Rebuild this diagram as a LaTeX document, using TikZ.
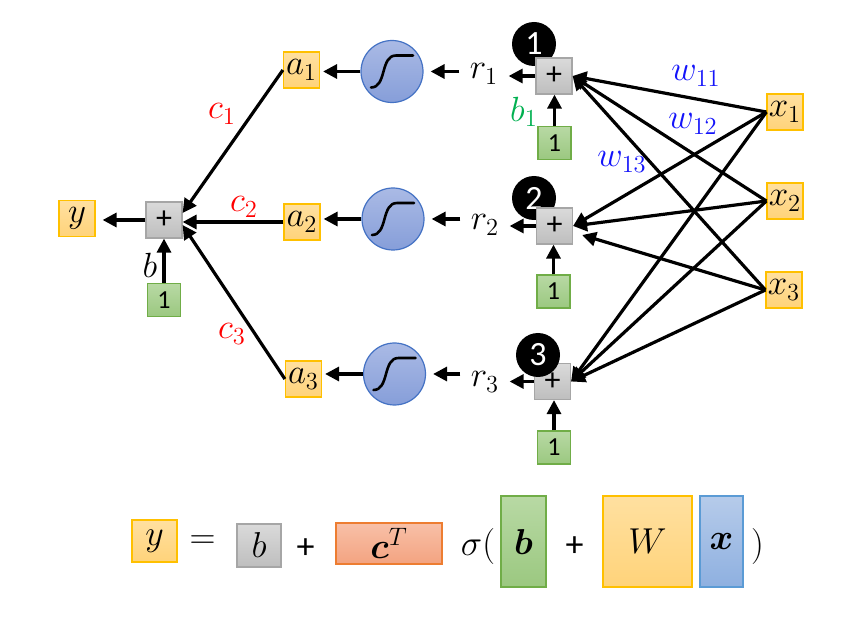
\RequirePackage{fix-cm}
\documentclass[tikz,border=0pt]{standalone}
\usepackage{bm}
\usepackage{fontspec}
\newfontfamily\calibri{Carlito}
\usetikzlibrary{arrows.meta}

% Colores
\definecolor{naranjaA}{RGB}{255,224,160}
\definecolor{naranjaC}{RGB}{255,211,122}
\definecolor{naranjaB}{RGB}{255,192,0}
\definecolor{grisA}{RGB}{218,218,218}
\definecolor{grisC}{RGB}{190,190,190}
\definecolor{grisB}{RGB}{166,166,166}
\definecolor{verdeA}{RGB}{184,217,164}
\definecolor{verdeC}{RGB}{155,200,128}
\definecolor{verdeB}{RGB}{112,173,71}
\definecolor{azulA}{RGB}{170,186,229}
\definecolor{azulC}{RGB}{134,158,217}
\definecolor{azulB}{RGB}{68,114,196}
\definecolor{salmonA}{RGB}{248,192,168}
\definecolor{salmonC}{RGB}{243,163,128}
\definecolor{salmonB}{RGB}{237,125,49}
\definecolor{celesteA}{RGB}{182,203,234}
\definecolor{celesteC}{RGB}{142,176,224}
\definecolor{celesteB}{RGB}{91,155,213}
\definecolor{verdeT}{RGB}{0,176,80}
\definecolor{azulT}{RGB}{20,20,250}

\begin{document}
\begin{tikzpicture}[x=0.5pt,y=-0.5pt,
    fnaranja/.style={draw=naranjaB, top color=naranjaA, bottom color=naranjaC},
    fgris/.style={draw=grisB, top color=grisA, bottom color=grisC},
    fverde/.style={draw=verdeB, top color=verdeA, bottom color=verdeC},
    fsalmon/.style={draw=salmonB, top color=salmonA, bottom color=salmonC},
    fceleste/.style={draw=celesteB, top color=celesteA, bottom color=celesteC},
    cuadro/.style={line width=0.6pt, inner sep=0pt},
    caja/.style={fnaranja, cuadro, minimum width=18pt, minimum height=18pt,
        font=\fontsize{17.5}{20}\selectfont},
    suma/.style={fgris, cuadro, minimum width=18pt, minimum height=18pt,
        font=\calibri\fontsize{16}{18}\selectfont},
    uno/.style={fverde, cuadro, minimum width=16.5pt, minimum height=16.5pt,
        font=\calibri\fontsize{13}{15}\selectfont},
    sigm/.style={circle, draw=azulB, top color=azulA, bottom color=azulC,
        line width=0.6pt, minimum size=31pt, inner sep=0pt},
    negro/.style={circle, fill=black, text=white, minimum size=22pt, inner sep=0pt,
        font=\calibri\fontsize{17}{19}\selectfont},
    flecha/.style={line width=1.6pt, -{Triangle[length=7pt,width=7pt]}},
    curva/.style={line width=1.3pt, line cap=round},
    etiq/.style={font=\fontsize{17.5}{20}\selectfont, inner sep=1pt},
    coef/.style={etiq, text=red},
    peso/.style={etiq, text=azulT},
    ecuad/.style={cuadro, font=\fontsize{18}{20}\selectfont},
    emat/.style={font=\fontsize{18}{20}\selectfont, inner sep=0pt},
    mas/.style={font=\calibri\fontsize{18}{20}\selectfont, inner sep=0pt}]
    \useasboundingbox (0,0) rectangle (864,631);

    % Salida
    \node[caja] (y) at (77,218.5) {$y$};
    \node[suma] (p0) at (164,220) {+};
    \node[uno] (u0) at (164,300) {1};
    \node[etiq] (lb) at (150,265) {$b$};

    % Neuronas ocultas
    \node[caja] (a1) at (301.5,70) {$a_1$};
    \node[caja] (a2) at (302,222) {$a_2$};
    \node[caja] (a3) at (303.5,379) {$a_3$};
    \node[sigm] (s1) at (392,71.5) {};
    \node[sigm] (s2) at (393,219) {};
    \node[sigm] (s3) at (394.5,374) {};
    \node[etiq, inner sep=5pt] (r1) at (484,74) {$r_1$};
    \node[etiq, inner sep=5pt] (r2) at (485,225) {$r_2$};
    \node[etiq, inner sep=5pt] (r3) at (485,382) {$r_3$};
    \node[negro] (k1) at (534,44) {1};
    \node[negro] (k2) at (534,198) {2};
    \node[suma] (p1) at (554,76) {+};
    \node[suma] (p2) at (554.5,226) {+};
    \node[suma] (p3) at (552.5,381.5) {+};
    \node[negro] (k3) at (538,355) {3};
    \node[uno] (u1) at (554.5,143) {1};
    \node[uno] (u2) at (553.5,291.5) {1};
    \node[uno] (u3) at (554,447.5) {1};
    \node[etiq, text=verdeT] (lb1) at (524,112) {$b_1$};

    % Entradas
    \node[caja] (x1) at (785,112) {$x_1$};
    \node[caja] (x2) at (785,201) {$x_2$};
    \node[caja] (x3) at (784,290) {$x_3$};

    % Flechas de salida
    \draw[flecha, shorten >=3.5pt] (p0) -- (p0 -| y.east);
    \draw[flecha] (u0) -- (p0);
    \draw[flecha] (a1.west) -- ([yshift=3.5pt]p0.east);
    \draw[flecha] (a2.west) -- (a2.west -| p0.east);
    \draw[flecha] (a3.west) -- ([yshift=-2.5pt]p0.east);

    % Cada neurona
    \foreach \i in {1,2,3} {
        \draw[flecha, shorten >=1.5pt] (s\i) -- (s\i -| a\i.east);
        \draw[flecha, shorten >=3.5pt] (r\i.west |- s\i) -- (s\i);
        \draw[flecha] (p\i) -- (p\i -| r\i.east);
        \draw[flecha] (u\i) -- (u\i |- p\i.south);
        \draw[curva, shift={(s\i.center)}] (-21,16) .. controls (-5,16) and (-12,-16) .. (4,-16) -- (21,-16);
    }

    % Pesos
    \foreach \i/\j in {1/1,1/2,1/3,2/1,2/2,2/3,3/1,3/3}
        \draw[flecha] (x\i.west) -- (p\j.east);
    \draw[flecha] (x3.west) -- ([shift={(9,9)}]p2.east);

    % Etiquetas
    \node[coef] (lc1) at (222,114) {$c_1$};
    \node[coef] (lc2) at (244,207) {$c_2$};
    \node[coef] (lc3) at (232,334) {$c_3$};
    \node[peso] (lw11) at (696,76) {$w_{11}$};
    \node[peso] (lw12) at (693,124) {$w_{12}$};
    \node[peso] (lw13) at (622,162) {$w_{13}$};

    % Ecuacion
    \node[ecuad, fnaranja, minimum width=22.5pt, minimum height=21pt] (ey) at (154.5,541) {$y$};
    \node[emat] (igual) at (202.5,542) {$=$};
    \node[ecuad, fgris, minimum width=22pt, minimum height=21.5pt] (eb) at (259,545.5) {$b$};
    \node[mas] (m1) at (305.5,549) {+};
    \node[ecuad, fsalmon, minimum width=53pt, minimum height=20.5pt] (ec) at (389,543.5) {$\bm{c}^T$};
    \node[emat] (sig) at (478,547) {$\sigma($};
    \node[ecuad, fverde, minimum width=22.5pt, minimum height=45.5pt] (ebv) at (523.5,541.5) {$\bm{b}$};
    \node[mas] (m2) at (574.5,547) {+};
    \node[ecuad, fnaranja, minimum width=44.5pt, minimum height=45.5pt] (eW) at (647.5,541.5) {$W$};
    \node[ecuad, fceleste, minimum width=21.5pt, minimum height=45.5pt] (ex) at (721.5,541.5) {$\bm{x}$};
    \node[emat] (cierra) at (757.5,547) {$)$};
\end{tikzpicture}
\end{document}
